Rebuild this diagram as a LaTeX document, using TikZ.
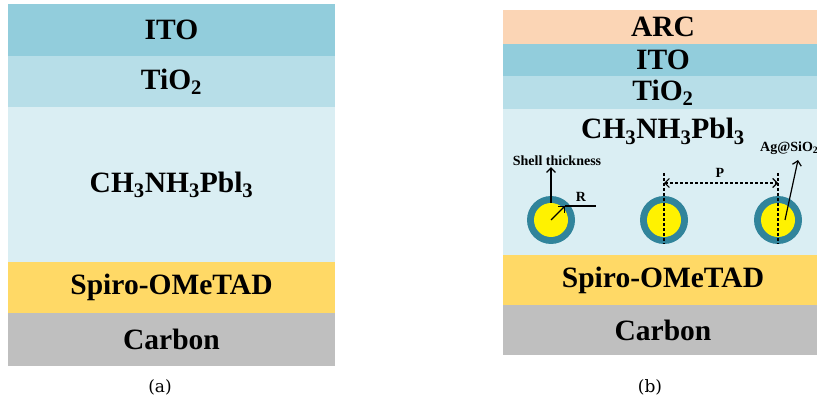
\documentclass[tikz,border=0pt]{standalone}
\usepackage{fontspec}
\setmainfont{Liberation Serif}
\newfontfamily\capfont{DejaVu Serif}
\usetikzlibrary{arrows.meta, positioning, calc}
\definecolor{ArcPeach}{HTML}{FBD5B5}
\definecolor{ItoBlue}{HTML}{92CDDC}
\definecolor{TioBlue}{HTML}{B7DEE8}
\definecolor{PeroBlue}{HTML}{DAEEF3}
\definecolor{SpiroGold}{HTML}{FFD966}
\definecolor{CarbonGrey}{HTML}{BFBFBF}
\definecolor{ShellTeal}{HTML}{31849B}

\begin{document}
\begin{tikzpicture}[
    x=1pt, y=-1pt,
    layer/.style={fill=#1, inner sep=0pt, outer sep=0pt, text=black,
        font=\fontsize{29.5}{32}\selectfont\bfseries},
    wideA/.style={minimum width=327pt},
    wideB/.style={minimum width=320pt},
    bigtext/.style={inner sep=0pt, font=\fontsize{29.5}{32}\selectfont\bfseries},
    tag/.style={inner sep=1pt, font=\fontsize{14}{16}\selectfont\bfseries},
    caption/.style={font=\capfont\fontsize{17}{19}\selectfont},
    shell/.style={circle, fill=ShellTeal, minimum size=48pt, inner sep=0pt},
    core/.style={circle, fill=yellow, minimum size=34pt, inner sep=0pt},
    arr/.style={-{Straight Barb[length=4.5pt, width=9pt]}, line width=1.2pt},
    guide/.style={line width=1.2pt, dash pattern=on 3pt off 2pt},
]
\useasboundingbox (0,0) rectangle (817,398);
\clip (0,0) rectangle (817,398);

% --- (a) capas de referencia ---
\node[layer=ItoBlue, wideA, minimum height=52pt, anchor=north west] (ito-a) at (8,4) {ITO};
\node[layer=TioBlue, wideA, minimum height=51pt, below=0pt of ito-a] (tio-a) {TiO\textsubscript{2}};
\node[layer=PeroBlue, wideA, minimum height=155pt, below=0pt of tio-a] (pero-a) {CH\textsubscript{3}NH\textsubscript{3}Pbl\textsubscript{3}};
\node[layer=SpiroGold, wideA, minimum height=51pt, below=0pt of pero-a] (spiro-a) {Spiro-OMeTAD};
\node[layer=CarbonGrey, wideA, minimum height=53pt, below=0pt of spiro-a] (carbon-a) {Carbon};
\node[caption] (cap-a) at (160,387) {(a)};

% --- (b) con ARC y nanopartículas ---
\node[layer=ArcPeach, wideB, minimum height=34pt, anchor=north west] (arc-b) at (503,10) {ARC};
\node[layer=ItoBlue, wideB, minimum height=32pt, below=0pt of arc-b] (ito-b) {ITO};
\node[layer=TioBlue, wideB, minimum height=33pt, below=0pt of ito-b] (tio-b) {TiO\textsubscript{2}};
\node[layer=PeroBlue, wideB, minimum height=146pt, below=0pt of tio-b] (pero-b) {};
\node[layer=SpiroGold, wideB, minimum height=50pt, below=0pt of pero-b] (spiro-b) {Spiro-OMeTAD};
\node[layer=CarbonGrey, wideB, minimum height=50pt, below=0pt of spiro-b] (carbon-b) {Carbon};
\node[bigtext, anchor=base] (pero-b-txt) at ($(pero-b.north)+(0,30)$) {CH\textsubscript{3}NH\textsubscript{3}Pbl\textsubscript{3}};
\node[caption] (cap-b) at (650,387) {(b)};

% partículas Ag@SiO2
\foreach \i/\x in {1/551, 2/664, 3/778}{
    \node[shell] (p\i) at (\x,220) {};
    \node[core] (c\i) at (p\i) {};
}

% espesor de la capa y radio
\node[tag] (shl) at (557,161) {Shell thickness};
\draw[arr] (c1.north) -- (c1.north |- shl.south);
\coordinate (r1) at (565,206);
\draw[arr] (p1.center) -- (r1);
\draw[line width=1.2pt] (r1) -- ++(31,0);
\node[tag] (rlab) at (581,197) {R};

% periodo P
\coordinate (t2) at (664,173);
\coordinate (t3) at (778,173);
\draw[guide] (t2) -- (p2.south);
\draw[guide] (t3) -- (p3.south);
\draw[guide, {Straight Barb[length=4.5pt, width=9pt]}-{Straight Barb[length=4.5pt, width=9pt]}]
    ($(t2)+(0,10)$) -- ($(t3)+(0,10)$);
\node[tag] (plab) at (720,173) {P};

% etiqueta de la partícula
\node[tag, anchor=west] (ag) at (759,148) {Ag@SiO\textsubscript{2}};
\coordinate (agtip) at (798,160);
\draw[arr] (785,220) -- (agtip);
\end{tikzpicture}
\end{document}
